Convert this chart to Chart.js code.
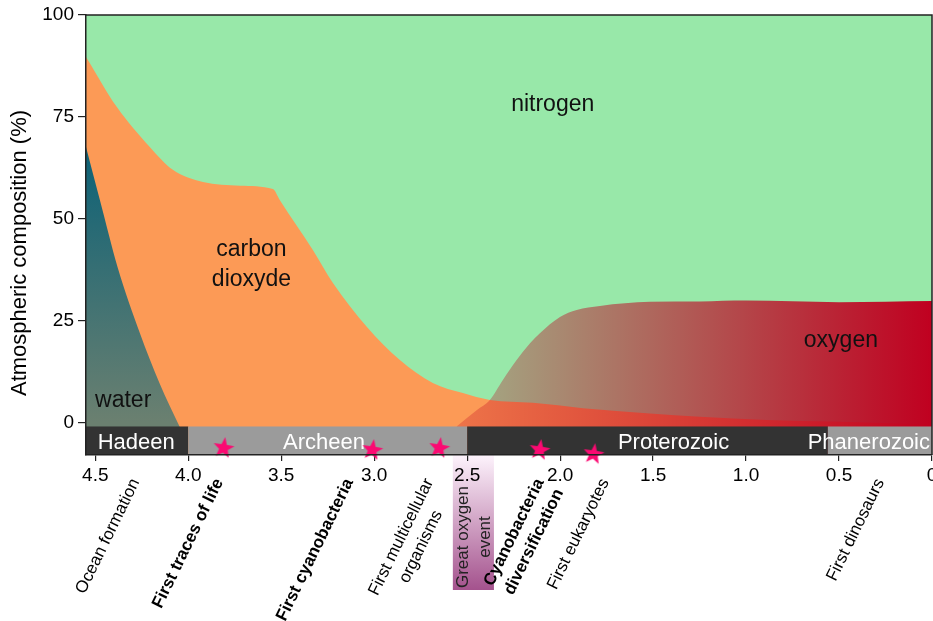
<!DOCTYPE html>
<html>
<head>
<meta charset="utf-8">
<script src="https://cdn.jsdelivr.net/npm/chart.js@4.4.0/dist/chart.umd.min.js"></script>
<style>
  html, body { margin: 0; padding: 0; background: #fff; }
  canvas { display: block; }
</style>
</head>
<body>
<canvas id="chart" width="933" height="621"></canvas>
<script>
// ages in billion years ago, composition in %
const waterAge = [4.55, 4.475, 4.38, 4.26, 4.155, 4.045];
const waterPct = [67.6, 54.5, 38.1, 21.9, 9.7, -1.2];

// top of the carbon dioxyde band (water counted below it)
const co2Age = [4.55, 4.384, 4.207, 4.083, 3.921, 3.722, 3.545, 3.508, 3.33, 3.222, 3.039, 2.862, 2.685, 2.523, 2.378, 2.146, 1.877, 1.517, 1.248, 0.888, 0.533, 0];
const co2Pct = [89.7, 77.4, 67.6, 62.0, 59.0, 58.1, 57.3, 54.6, 42.3, 34.2, 23.4, 15.3, 9.7, 7.2, 5.5, 4.8, 3.5, 2.2, 1.4, 0.6, 0.2, -0.5];

const oxygenAge = [2.557, 2.449, 2.378, 2.308, 2.234, 2.162, 2.109, 2.001, 1.911, 1.786, 1.517, 1.248, 1.0, 0.5, 0];
const oxygenPct = [-1.0, 3.0, 5.5, 10.4, 15.3, 19.4, 21.9, 25.9, 27.6, 28.6, 29.6, 29.7, 29.9, 29.5, 29.8];

const nitrogenAge = [4.55, 0];
const nitrogenPct = [100, 100];

const eraNames = ['Hadeen', 'Archeen', 'Proterozoic', 'Phanerozoic'];
const eraStart = [4.55, 4.0, 2.5, 0.56];
const eraEnd = [4.0, 2.5, 0.56, 0];
const eraLabelAge = [4.28, 3.27, 1.39, 0.33];

const starAge = [3.81, 3.01, 2.65, 2.11, 1.82];
const starLevel = [-6.3, -6.8, -6.3, -6.8, -7.8];

const eventNames = [
  ['Ocean formation'],
  ['First traces of life'],
  ['First cyanobacteria'],
  ['First multicellular', 'organisms'],
  ['Cyanobacteria', 'diversification'],
  ['First eukaryotes'],
  ['First dinosaurs']
];
const eventAge = [4.325, 3.875, 3.175, 2.745, 2.15, 1.80, 0.32];
const eventBold = [false, true, true, false, true, false, false];

const goeLabel = ['Great oxygen', 'event'];
const goeStart = 2.577;
const goeEnd = 2.356;

const areaLabels = ['nitrogen', 'carbon', 'dioxyde', 'oxygen', 'water'];
const areaLabelAge = [2.04, 3.66, 3.66, 0.49, 4.35];
const areaLabelPct = [77.9, 42.3, 35.0, 20.0, 5.3];

const xTicks = [4.5, 4.0, 3.5, 3.0, 2.5, 2.0, 1.5, 1.0, 0.5, 0];
const yTicks = [0, 25, 50, 75, 100];

const FONT = '"Liberation Sans", Arial, Helvetica, sans-serif';

const pts = (xs, ys) => xs.map((x, i) => ({ x: x, y: ys[i] }));

// filled 5 point star used as point style
function starImage(r, color) {
  const c = document.createElement('canvas');
  const s = Math.ceil(r * 2 + 2);
  c.width = s;
  c.height = s;
  const g = c.getContext('2d');
  g.translate(s / 2, s / 2);
  g.beginPath();
  for (let i = 0; i < 10; i++) {
    const rad = i % 2 === 0 ? r : r * 0.42;
    const a = -Math.PI / 2 + 0.15 + i * Math.PI / 5;
    g.lineTo(rad * Math.cos(a), rad * Math.sin(a));
  }
  g.closePath();
  g.fillStyle = color;
  g.fill();
  return c;
}

function waterFill(context) {
  const chart = context.chart;
  if (!chart.chartArea) return '#3d7478';
  const y = chart.scales.y;
  const g = chart.ctx.createLinearGradient(0, y.getPixelForValue(68), 0, y.getPixelForValue(0));
  g.addColorStop(0, '#0b6177');
  g.addColorStop(1, '#6b8070');
  return g;
}

function oxygenFill(context) {
  const chart = context.chart;
  if (!chart.chartArea) return 'rgba(192,0,32,0.6)';
  const x = chart.scales.x;
  const g = chart.ctx.createLinearGradient(x.getPixelForValue(3.4), 0, x.getPixelForValue(0), 0);
  g.addColorStop(0, 'rgba(192,0,32,0)');
  g.addColorStop(1, 'rgba(192,0,32,1)');
  return g;
}

function area(data, color) {
  return {
    data: data,
    fill: 'start',
    backgroundColor: color,
    borderColor: 'transparent',
    borderWidth: 0,
    pointRadius: 0,
    cubicInterpolationMode: 'monotone'
  };
}

// Great oxygen event box, under the tick labels
const goePlugin = {
  id: 'goeBox',
  beforeDraw(chart) {
    const { ctx, chartArea, scales: { x } } = chart;
    const x0 = x.getPixelForValue(goeStart);
    const x1 = x.getPixelForValue(goeEnd);
    const top = chartArea.bottom;
    const bottom = 590;
    ctx.save();
    const g = ctx.createLinearGradient(0, top, 0, bottom);
    g.addColorStop(0, '#fdf3fc');
    g.addColorStop(1, '#a4528d');
    ctx.fillStyle = g;
    ctx.fillRect(x0, top, x1 - x0, bottom - top);
    ctx.translate((x0 + x1) / 2 + 1, 537);
    ctx.rotate(-Math.PI / 2);
    ctx.font = '17px ' + FONT;
    ctx.fillStyle = '#222';
    ctx.textAlign = 'center';
    ctx.textBaseline = 'middle';
    ctx.fillText(goeLabel[0], 0, -11);
    ctx.fillText(goeLabel[1], 0, 11);
    ctx.restore();
  }
};

// eon bar, drawn over the areas and under the stars
const eraBarPlugin = {
  id: 'eraBar',
  beforeDatasetDraw(chart, args) {
    if (args.index !== 0) return;
    const { ctx, chartArea, scales: { x, y } } = chart;
    const top = y.getPixelForValue(-1);
    const bottom = chartArea.bottom;
    ctx.save();
    eraNames.forEach((name, i) => {
      const x0 = x.getPixelForValue(eraStart[i]);
      const x1 = x.getPixelForValue(eraEnd[i]);
      ctx.fillStyle = i % 2 ? '#9b9b9b' : '#333333';
      ctx.fillRect(x0, top, x1 - x0, bottom - top);
    });
    ctx.font = '22px ' + FONT;
    ctx.fillStyle = '#fff';
    ctx.textAlign = 'center';
    ctx.textBaseline = 'alphabetic';
    eraNames.forEach((name, i) => {
      const w = ctx.measureText(name).width;
      let cx = x.getPixelForValue(eraLabelAge[i]);
      cx = Math.min(cx, chartArea.right - w / 2 - 2);
      ctx.fillText(name, cx, bottom - 6.5);
    });
    ctx.restore();
  }
};

const labelsPlugin = {
  id: 'labels',
  afterDatasetsDraw(chart) {
    const { ctx, scales: { x, y } } = chart;
    ctx.save();
    ctx.font = '23px ' + FONT;
    ctx.fillStyle = '#111';
    ctx.textAlign = 'center';
    ctx.textBaseline = 'middle';
    areaLabels.forEach((t, i) => {
      ctx.fillText(t, x.getPixelForValue(areaLabelAge[i]), y.getPixelForValue(areaLabelPct[i]));
    });
    ctx.restore();
  },
  afterDraw(chart) {
    const { ctx, chartArea, scales: { x } } = chart;
    ctx.save();
    // top and right frame
    ctx.strokeStyle = '#222';
    ctx.lineWidth = 1.5;
    ctx.beginPath();
    ctx.moveTo(chartArea.left, chartArea.top);
    ctx.lineTo(chartArea.right, chartArea.top);
    ctx.lineTo(chartArea.right, chartArea.bottom);
    ctx.stroke();

    // y axis title
    ctx.save();
    ctx.translate(20, 253);
    ctx.rotate(-Math.PI / 2);
    ctx.font = '22px ' + FONT;
    ctx.fillStyle = '#000';
    ctx.textAlign = 'center';
    ctx.textBaseline = 'middle';
    ctx.fillText('Atmospheric composition (%)', 0, 0);
    ctx.restore();

    // events under the axis
    ctx.fillStyle = '#000';
    eventNames.forEach((lines, i) => {
      ctx.font = (eventBold[i] ? 'bold ' : '') + '17px ' + FONT;
      const w = Math.max(...lines.map(l => ctx.measureText(l).width));
      ctx.save();
      ctx.translate(x.getPixelForValue(eventAge[i]), chartArea.bottom + 21);
      ctx.rotate(-64 * Math.PI / 180);
      ctx.textAlign = 'center';
      ctx.textBaseline = 'top';
      lines.forEach((l, j) => ctx.fillText(l, -w / 2, j * 22));
      ctx.restore();
    });
    ctx.restore();
  }
};

new Chart(document.getElementById('chart'), {
  type: 'line',
  data: {
    datasets: [
      {
        data: pts(starAge, starLevel),
        showLine: false,
        pointStyle: starImage(11, '#fb0a72'),
        pointRadius: 10,
        clip: false
      },
      area(pts(waterAge, waterPct), waterFill),
      area(pts(oxygenAge, oxygenPct), oxygenFill),
      area(pts(co2Age, co2Pct), '#fc9a56'),
      area(pts(nitrogenAge, nitrogenPct), '#98e8a9')
    ]
  },
  options: {
    responsive: false,
    animation: false,
    layout: { autoPadding: false, padding: { top: 15, right: 1, left: 0, bottom: 0 } },
    plugins: {
      legend: { display: false },
      tooltip: { enabled: false }
    },
    scales: {
      x: {
        type: 'linear',
        reverse: true,
        min: 0,
        max: 4.55,
        afterBuildTicks: s => { s.ticks = xTicks.map(v => ({ value: v })); },
        afterFit: s => { s.height = 166; s.paddingLeft = 0; s.paddingRight = 0; },
        grid: { drawOnChartArea: false, tickLength: 6, color: '#222', lineWidth: 1.2 },
        border: { display: true, color: '#222', width: 1.5, z: 1 },
        ticks: {
          font: { size: 19, family: FONT },
          color: '#000',
          padding: 3,
          maxRotation: 0,
          autoSkip: false,
          callback: v => (v === 0 ? '0' : v.toFixed(1))
        }
      },
      y: {
        min: -8,
        max: 100,
        afterBuildTicks: s => { s.ticks = yTicks.map(v => ({ value: v })); },
        afterFit: s => { s.width = 86; s.paddingTop = 0; s.paddingBottom = 0; },
        grid: { drawOnChartArea: false, tickLength: 8, color: '#222', lineWidth: 1.2 },
        border: { display: true, color: '#222', width: 1.5, z: 1 },
        ticks: {
          font: { size: 19, family: FONT },
          color: '#000',
          padding: 4,
          callback: v => String(v)
        }
      }
    }
  },
  plugins: [goePlugin, eraBarPlugin, labelsPlugin]
});
</script>
</body>
</html>
